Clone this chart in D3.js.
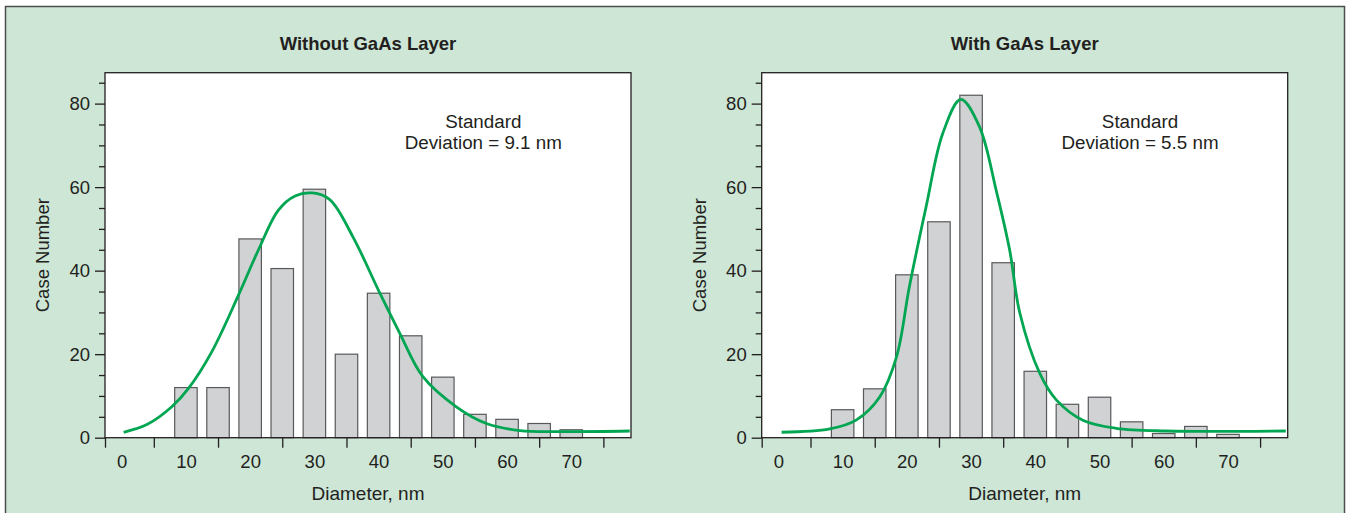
<!DOCTYPE html>
<html>
<head>
<meta charset="utf-8">
<script src="https://cdn.jsdelivr.net/npm/d3@7"></script>
<style>
  body { margin: 0; background: #fff; }
  svg { display: block; font-family: "Liberation Sans", Arial, Helvetica, sans-serif; }
  .tick text { fill: #231f20; }
</style>
</head>
<body>
<svg width="1349" height="513"></svg>
<script>
// bin centres (nm) and counts
const binCenters = [10, 15, 20, 25, 30, 35, 40, 45, 50, 55, 60, 65, 70];
const countsWithout = [12, 12, 47.6, 40.5, 59.5, 20, 34.6, 24.4, 14.5, 5.6, 4.4, 3.4, 1.9];
const countsWith = [6.7, 11.7, 39, 51.7, 82, 41.9, 15.9, 8, 9.7, 3.8, 1, 2.7, 0.8];

// fitted curves, points [diameter, count]
const fitWithout = [
  [0.3, 1.3], [4, 3.2], [7.8, 7.4], [10.4, 11.8], [14, 20.5], [18.2, 34.2],
  [21.3, 45], [24.4, 54.5], [27, 57.9], [29.7, 58.6], [32.4, 57], [36, 48.1],
  [40.2, 34.6], [43.3, 25], [46.9, 14.6], [52.1, 7.4], [56.8, 3.4], [62, 1.7],
  [68.7, 1.45], [79.1, 1.6]
];
const fitWith = [
  [0.5, 1.3], [8, 2.1], [12.1, 4.2], [15.8, 9.8], [18.4, 19.4], [20.4, 36.2],
  [23, 55.3], [25.6, 72.9], [28.4, 81], [31.3, 74.5], [33.9, 59.3], [36, 45],
  [37.6, 29.8], [40.7, 15.4], [43.3, 9], [47.4, 4.2], [52.6, 2.25], [60.4, 1.6],
  [79, 1.6]
];

const titles = ["Without GaAs Layer", "With GaAs Layer"];
const sdLabels = ["Deviation = 9.1 nm", "Deviation = 5.5 nm"];
const xTickLabels = [0, 10, 20, 30, 40, 50, 60, 70];
const xTickMarks = [5, 15, 25, 35, 45, 55, 65, 75];
const yTickLabels = [0, 20, 40, 60, 80];

const svg = d3.select("svg");
const textColor = "#231f20";

// background panel
svg.append("rect")
  .attr("x", 5.5).attr("y", 6.5)
  .attr("width", 1339).attr("height", 520)
  .attr("fill", "#cde6d6")
  .attr("stroke", "#4d4d4d")
  .attr("stroke-width", 1.5);

const plotW = 526, plotH = 365;

const x = d3.scaleLinear().domain([-2.6, 79.3]).range([0, plotW]);
const y = d3.scaleLinear().domain([0, 87.4]).range([plotH, 0]);

const line = d3.line()
  .x((d) => x(d[0]))
  .y((d) => y(d[1]))
  .curve(d3.curveCatmullRom.alpha(0.5));

function drawPanel(left, counts, fit, title, sdLabel) {
  const g = svg.append("g").attr("transform", `translate(${left},72.7)`);

  g.append("rect")
    .attr("width", plotW).attr("height", plotH)
    .attr("fill", "#fff");

  // bars
  g.append("g")
    .selectAll("rect")
    .data(binCenters)
    .enter()
    .append("rect")
    .attr("x", (d) => x(d - 1.75))
    .attr("width", x(1.75) - x(-1.75))
    .attr("y", (d, i) => y(counts[i]))
    .attr("height", (d, i) => y(0) - y(counts[i]))
    .attr("fill", "#d1d2d4")
    .attr("stroke", "#58595b")
    .attr("stroke-width", 1.2);

  // fitted curve
  g.append("path")
    .datum(fit)
    .attr("d", line)
    .attr("fill", "none")
    .attr("stroke", "#00a651")
    .attr("stroke-width", 2.8);

  // frame
  g.append("rect")
    .attr("width", plotW).attr("height", plotH)
    .attr("fill", "none")
    .attr("stroke", "#231f20")
    .attr("stroke-width", 1.3);

  // x tick marks (between labels) and labels
  const xMarks = g.append("g")
    .attr("transform", `translate(0,${plotH})`)
    .call(d3.axisBottom(x).tickValues([x.domain()[0]].concat(xTickMarks)).tickSize(10).tickFormat(""));
  xMarks.select(".domain").remove();
  xMarks.selectAll("line").attr("stroke", textColor).attr("stroke-width", 1.3);

  const xLabels = g.append("g")
    .attr("transform", `translate(0,${plotH})`)
    .call(d3.axisBottom(x).tickValues(xTickLabels).tickSize(0).tickPadding(17));
  xLabels.select(".domain").remove();
  xLabels.selectAll("text").attr("font-size", 18.5).attr("font-family", null);

  // y ticks every 5, labels every 20
  const yAxis = g.append("g")
    .call(d3.axisLeft(y)
      .tickValues(d3.range(0, 86, 5))
      .tickSize(6)
      .tickPadding(9)
      .tickFormat((d) => (yTickLabels.includes(d) ? d : "")));
  yAxis.select(".domain").remove();
  yAxis.selectAll("line")
    .attr("stroke", textColor)
    .attr("stroke-width", 1.3)
    .attr("x2", (d) => (yTickLabels.includes(d) ? -10 : -6));
  yAxis.selectAll("text").attr("font-size", 18.5).attr("font-family", null);

  // titles
  g.append("text")
    .attr("x", plotW / 2).attr("y", -23)
    .attr("text-anchor", "middle")
    .attr("font-size", 18.5).attr("font-weight", "bold")
    .attr("fill", textColor)
    .text(title);

  g.append("text")
    .attr("x", plotW / 2).attr("y", plotH + 62)
    .attr("text-anchor", "middle")
    .attr("font-size", 19)
    .attr("fill", textColor)
    .text("Diameter, nm");

  g.append("text")
    .attr("transform", `translate(-56,${plotH / 2}) rotate(-90)`)
    .attr("text-anchor", "middle")
    .attr("font-size", 18.5)
    .attr("fill", textColor)
    .text("Case Number");

  // standard deviation note
  const note = g.append("text")
    .attr("text-anchor", "middle")
    .attr("font-size", 18.8)
    .attr("fill", textColor);
  note.append("tspan").attr("x", x(56.3)).attr("y", y(74.1)).text("Standard");
  note.append("tspan").attr("x", x(56.3)).attr("y", y(69.1)).text(sdLabel);
}

drawPanel(105, countsWithout, fitWithout, titles[0], sdLabels[0]);
drawPanel(761.7, countsWith, fitWith, titles[1], sdLabels[1]);
</script>
</body>
</html>
